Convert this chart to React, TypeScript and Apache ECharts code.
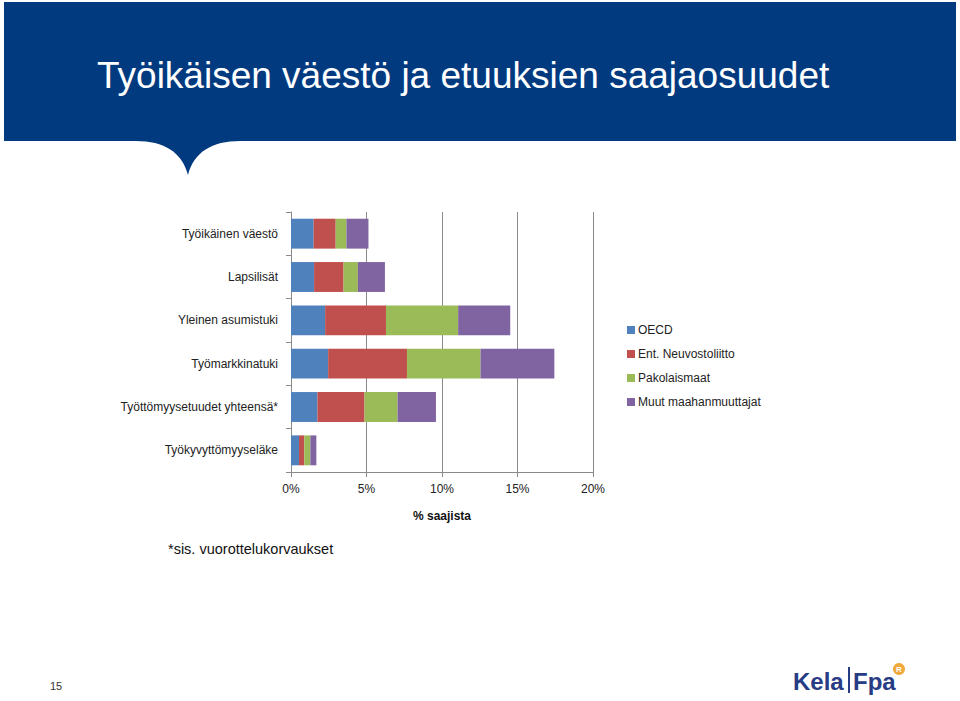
import React, { useEffect, useRef } from "react";
import * as echarts from "echarts";

const categories = [
  "Työikäinen väestö",
  "Lapsilisät",
  "Yleinen asumistuki",
  "Työmarkkinatuki",
  "Työttömyysetuudet yhteensä*",
  "Työkyvyttömyyseläke",
];
const seriesNames = ["OECD", "Ent. Neuvostoliitto", "Pakolaismaat", "Muut maahanmuuttajat"];
const oecd = [1.5, 1.53, 2.26, 2.46, 1.75, 0.53];
const entNeuvostoliitto = [1.46, 1.95, 4.03, 5.22, 3.12, 0.35];
const pakolaismaat = [0.71, 0.95, 4.78, 4.87, 2.19, 0.4];
const muutMaahanmuuttajat = [1.46, 1.79, 3.45, 4.89, 2.54, 0.4];
const seriesColors = ["#4F81BD", "#C0504D", "#9BBB59", "#8064A2"];
const xMin = 0;
const xMax = 20;
const xStep = 5;

const FONT = "'Liberation Sans', Arial, sans-serif";

let registered = false;
function registerShapes() {
  if (registered) return;
  registered = true;
  const d = "M136 141 C164 141 182 152 188 175 C194 152 212 141 240 141 Z";
  echarts.graphic.registerShape("bubblePointer", echarts.graphic.extendPath(d, {}) as any);
}

export default function App() {
  const ref = useRef<HTMLDivElement>(null);

  useEffect(() => {
    if (!ref.current) return;
    registerShapes();
    const chart = echarts.init(ref.current, undefined, { renderer: "svg" });
    const allSeries = [oecd, entNeuvostoliitto, pakolaismaat, muutMaahanmuuttajat];
    const option: any = {
      animation: false,
      backgroundColor: "#ffffff",
      textStyle: { fontFamily: FONT },
      grid: { left: 291, right: 367, top: 212, bottom: 229, containLabel: false },
      legend: {
        orient: "vertical",
        left: 622,
        top: 319,
        itemWidth: 8,
        itemHeight: 8,
        itemGap: 12,
        icon: "rect",
        data: seriesNames,
        textStyle: { fontFamily: FONT, fontSize: 12, color: "#222", padding: [0, 0, 0, -2] },
        selectedMode: false,
      },
      xAxis: {
        type: "value",
        min: xMin,
        max: xMax,
        interval: xStep,
        axisLine: { show: true, lineStyle: { color: "#8a8a8a", width: 1 } },
        axisTick: { show: true, length: 5, lineStyle: { color: "#8a8a8a" } },
        splitLine: { show: true, lineStyle: { color: "#8a8a8a", width: 1 } },
        axisLabel: {
          formatter: "{value}%",
          fontFamily: FONT,
          fontSize: 12,
          color: "#222",
          margin: 11,
        },
        name: "% saajista",
        nameLocation: "middle",
        nameGap: 38,
        nameTextStyle: { fontFamily: FONT, fontSize: 12, fontWeight: "bold", color: "#111" },
      },
      yAxis: {
        type: "category",
        inverse: true,
        data: categories,
        axisLine: { show: true, lineStyle: { color: "#8a8a8a", width: 1 } },
        axisTick: { show: true, length: 5, lineStyle: { color: "#8a8a8a" } },
        splitLine: { show: false },
        axisLabel: { fontFamily: FONT, fontSize: 12, color: "#222", margin: 13 },
      },
      series: seriesNames.map((name, i) => ({
        name,
        type: "bar",
        stack: "total",
        data: allSeries[i],
        barCategoryGap: "31%",
        itemStyle: { color: seriesColors[i] },
      })),
      graphic: [
        {
          type: "rect",
          shape: { x: 4, y: 2, width: 952, height: 139 },
          style: { fill: "#023A80" },
          silent: true,
        },
        {
          type: "bubblePointer",
          x: 0,
          y: 0,
          style: { fill: "#023A80" },
          silent: true,
        },
        {
          type: "text",
          x: 97,
          y: 75,
          style: {
            text: "Työikäisen väestö ja etuuksien saajaosuudet",
            fill: "#ffffff",
            font: `37px ${FONT}`,
            textVerticalAlign: "middle",
            textAlign: "left",
          },
          silent: true,
        },
        {
          type: "text",
          x: 168,
          y: 549,
          style: {
            text: "*sis. vuorottelukorvaukset",
            fill: "#111",
            font: `14.5px ${FONT}`,
            textVerticalAlign: "middle",
            textAlign: "left",
          },
          silent: true,
        },
        {
          type: "text",
          x: 56,
          y: 686,
          style: {
            text: "15",
            fill: "#333",
            font: `11px ${FONT}`,
            textVerticalAlign: "middle",
            textAlign: "center",
          },
          silent: true,
        },
        {
          type: "text",
          x: 793,
          y: 681,
          style: {
            text: "Kela",
            fill: "#283C85",
            font: `bold 24px ${FONT}`,
            textVerticalAlign: "middle",
            textAlign: "left",
          },
          silent: true,
        },
        {
          type: "rect",
          shape: { x: 848, y: 667, width: 2, height: 26 },
          style: { fill: "#283C85" },
          silent: true,
        },
        {
          type: "text",
          x: 853,
          y: 681,
          style: {
            text: "Fpa",
            fill: "#283C85",
            font: `bold 24px ${FONT}`,
            textVerticalAlign: "middle",
            textAlign: "left",
          },
          silent: true,
        },
        {
          type: "circle",
          shape: { cx: 899, cy: 669, r: 6 },
          style: { fill: "#F2A93B" },
          silent: true,
        },
        {
          type: "text",
          x: 899,
          y: 669,
          style: {
            text: "R",
            fill: "#ffffff",
            font: `bold 8px ${FONT}`,
            textVerticalAlign: "middle",
            textAlign: "center",
          },
          silent: true,
        },
      ],
    };
    chart.setOption(option);
    return () => {
      chart.dispose();
    };
  }, []);

  return (
    <div
      ref={ref}
      style={{ position: "absolute", left: 0, top: 0, width: 960, height: 701 }}
    />
  );
}
